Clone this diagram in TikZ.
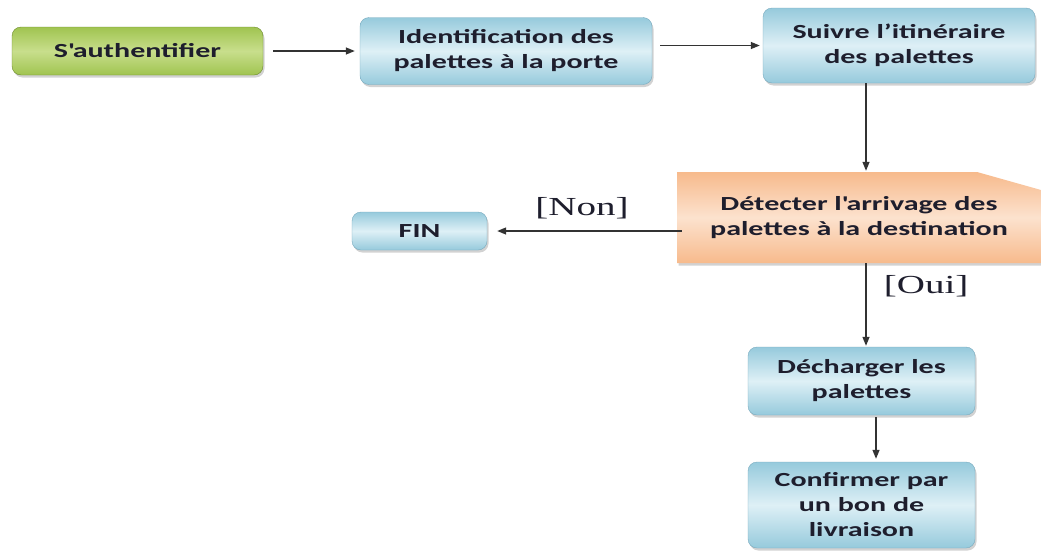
\documentclass[tikz,border=0pt]{standalone}
\usepackage{fontspec}
\newfontfamily\boxfont[FakeStretch=1.5]{Carlito}
\newfontfamily\guardfont[FakeStretch=1.5]{Liberation Serif}
\usetikzlibrary{arrows.meta, calc, shadows}
\definecolor{blueedge}{RGB}{150,202,220}
\definecolor{bluemid}{RGB}{222,240,246}
\definecolor{blueline}{RGB}{120,170,190}
\definecolor{greenedge}{RGB}{160,196,80}
\definecolor{greenmid}{RGB}{200,222,140}
\definecolor{greenline}{RGB}{110,140,45}
\definecolor{orangeedge}{RGB}{247,186,140}
\definecolor{orangemid}{RGB}{252,226,206}
\definecolor{inkdark}{RGB}{30,30,45}

\begin{document}
\begin{tikzpicture}[x=1pt, y=-1pt,
		box/.style={rounded corners=9pt, align=center, inner sep=0pt, text=inkdark,
			font=\boxfont\bfseries\fontsize{20}{25}\selectfont},
		shadowed/.style={drop shadow={shadow xshift=1.5pt, shadow yshift=-2.5pt, fill=black!35}},
		bluebox/.style={box, shadowed, draw=blueline, top color=blueedge, bottom color=blueedge, middle color=bluemid},
		greenbox/.style={box, shadowed, draw=greenline, top color=greenedge, bottom color=greenedge, middle color=greenmid},
		flow/.style={-{Triangle[length=9pt,width=7pt]}, line width=1.3pt, draw=black!80},
		guard/.style={font=\guardfont\fontsize{26}{30}\selectfont, text=inkdark}]
		\path[use as bounding box, fill=white] (0,0) rectangle (1041,555);
		\coordinate (axis) at (866,0);
		\coordinate (axisb) at (876,0);
		\shade[top color=orangeedge, bottom color=orangeedge, middle color=orangemid, shadowed]
			(677,172) -- (977,172) -- (1041,190) -- (1041,263) -- (677,263) -- cycle;
		\node[greenbox, minimum width=251pt, minimum height=48pt] (auth) at (137.5,51) {S\textquotesingle authentifier};
		\node[bluebox, minimum width=292pt, minimum height=67pt] (ident) at (506,51) {Identification des\\palettes à la porte};
		\node[bluebox, minimum width=272pt, minimum height=75pt] (suivre) at (899,45.5) {Suivre l’itinéraire\\des palettes};
		\node[box, minimum width=364pt, minimum height=91pt] (detect) at (859,217.5) {Détecter l\textquotesingle arrivage des\\palettes à la destination};
		\node[bluebox, minimum width=135pt, minimum height=38pt] (fin) at (419.5,231) {FIN};
		\node[bluebox, minimum width=227pt, minimum height=68pt] (decharger) at (861.5,381) {Décharger les\\palettes};
		\node[bluebox, minimum width=227pt, minimum height=86pt] (confirmer) at (861.5,505) {Confirmer par\\un bon de\\livraison};
		\draw[flow, shorten <=10pt, shorten >=5pt] (auth.east) -- (ident.west |- auth.east);
		\draw[flow, shorten <=8pt, shorten >=3pt] (ident.east |- suivre.west) -- (suivre.west);
		\draw[flow, shorten >=1pt] (suivre.south -| axis) -- (detect.north -| axis);
		\draw[flow, shorten <=-5pt, shorten >=10pt] (detect.west |- fin.east) -- (fin.east) node[guard, midway, above=8pt] {[Non]};
		\draw[flow, shorten >=1pt] (detect.south -| axis) -- (decharger.north -| axis) node[guard, pos=0.28, right=14pt] {[Oui]};
		\draw[flow, shorten <=2pt, shorten >=3pt] (decharger.south -| axisb) -- (confirmer.north -| axisb);
	\end{tikzpicture}
\end{document}
